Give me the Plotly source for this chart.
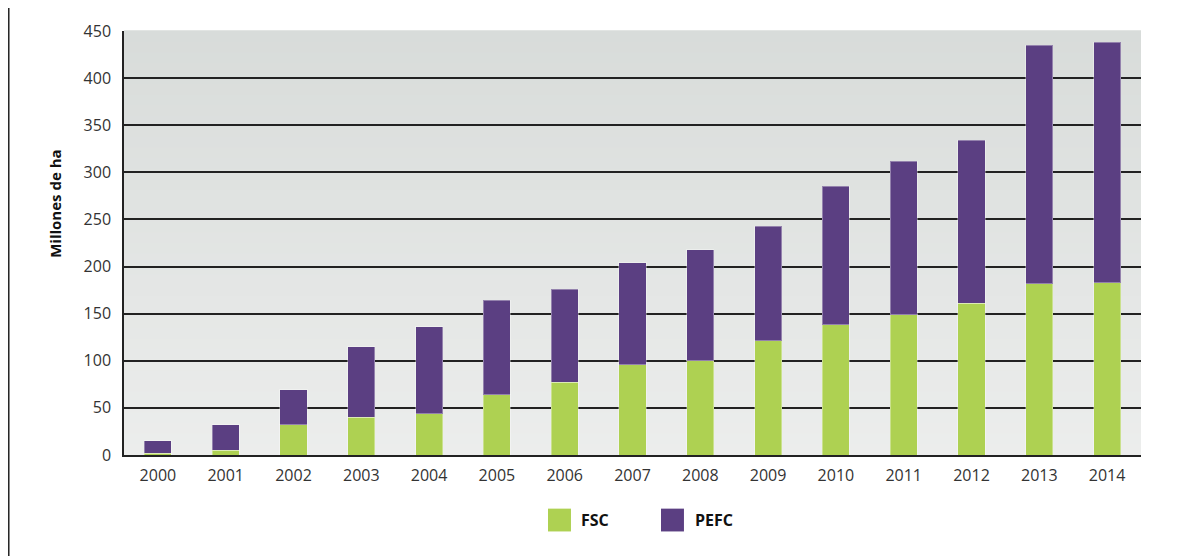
import plotly.graph_objects as go

years = ["2000", "2001", "2002", "2003", "2004", "2005", "2006", "2007",
         "2008", "2009", "2010", "2011", "2012", "2013", "2014"]
fsc = [2, 5, 32, 40, 44, 64, 77, 96, 100, 121, 138, 149, 161, 182, 183]
total = [15, 32, 69, 115, 136, 164, 176, 204, 218, 243, 285, 312, 334, 435, 438]
pefc = [t - f for t, f in zip(total, fsc)]

y_ticks = [0, 50, 100, 150, 200, 250, 300, 350, 400, 450]

GREEN = "#AED152"
PURPLE = "#5B3F82"
FONT = "Open Sans"

fig = go.Figure()
fig.add_trace(go.Bar(x=years, y=fsc, name="FSC", marker=dict(color=GREEN, line=dict(color="rgba(255,255,255,0.35)", width=1)), showlegend=False))
fig.add_trace(go.Bar(x=years, y=pefc, name="PEFC", marker=dict(color=PURPLE, line=dict(color="rgba(255,255,255,0.35)", width=1)), showlegend=False))

# gradient background bands
shapes = []
n = 40
top = (216, 220, 218)
bot = (236, 237, 236)
for i in range(n):
    t = i / (n - 1)
    c = tuple(round(bot[k] + (top[k] - bot[k]) * t) for k in range(3))
    shapes.append(dict(type="rect", xref="x domain", yref="y domain",
                       x0=0, x1=1, y0=i / n, y1=(i + 1) / n + 0.002,
                       fillcolor="rgb(%d,%d,%d)" % c, line=dict(width=0), layer="below"))
# left frame line
shapes.append(dict(type="line", xref="paper", yref="paper", x0=-0.1133, x1=-0.1133,
                   y0=-0.24, y1=1.07, line=dict(color="#222", width=1.5)))
# legend squares
shapes.append(dict(type="rect", xref="paper", yref="paper", x0=0.4169, x1=0.4395,
                   y0=-0.1803, y1=-0.1265, fillcolor=GREEN, line=dict(width=0)))
shapes.append(dict(type="rect", xref="paper", yref="paper", x0=0.528, x1=0.5506,
                   y0=-0.1803, y1=-0.1265, fillcolor=PURPLE, line=dict(width=0)))

annotations = [
    dict(text="<b>Millones de ha</b>", xref="paper", yref="paper", x=-0.0678, y=0.5925,
         textangle=-90, showarrow=False, font=dict(family=FONT, size=15, color="#111"),
         xanchor="center", yanchor="middle"),
    dict(text="<b>FSC</b>", xref="paper", yref="paper", x=0.4474, y=-0.1534,
         showarrow=False, font=dict(family=FONT, size=16, color="#111"),
         xanchor="left", yanchor="middle"),
    dict(text="<b>PEFC</b>", xref="paper", yref="paper", x=0.5598, y=-0.1534,
         showarrow=False, font=dict(family=FONT, size=16, color="#111"),
         xanchor="left", yanchor="middle"),
]

fig.update_layout(
    width=1194, height=548,
    margin=dict(l=116, r=61, t=20, b=101),
    barmode="stack", bargap=0.6,
    paper_bgcolor="white", plot_bgcolor="rgba(0,0,0,0)",
    shapes=shapes, annotations=annotations,
    font=dict(family=FONT, size=16, color="#333"),
    showlegend=False,
)
fig.update_xaxes(showline=True, linecolor="#222", linewidth=1.5, ticks="outside",
                 ticklen=5, tickcolor="rgba(0,0,0,0)", showgrid=False,
                 tickfont=dict(family=FONT, size=16, color="#333"))
fig.update_yaxes(range=[0, 450], tickvals=y_ticks, showline=True, linecolor="#222",
                 linewidth=1.5, showgrid=True, gridcolor="#222", gridwidth=1.5,
                 ticks="outside", ticklen=8, tickcolor="rgba(0,0,0,0)", zeroline=False,
                 tickfont=dict(family=FONT, size=16, color="#333"))

fig.write_html("out.html")
